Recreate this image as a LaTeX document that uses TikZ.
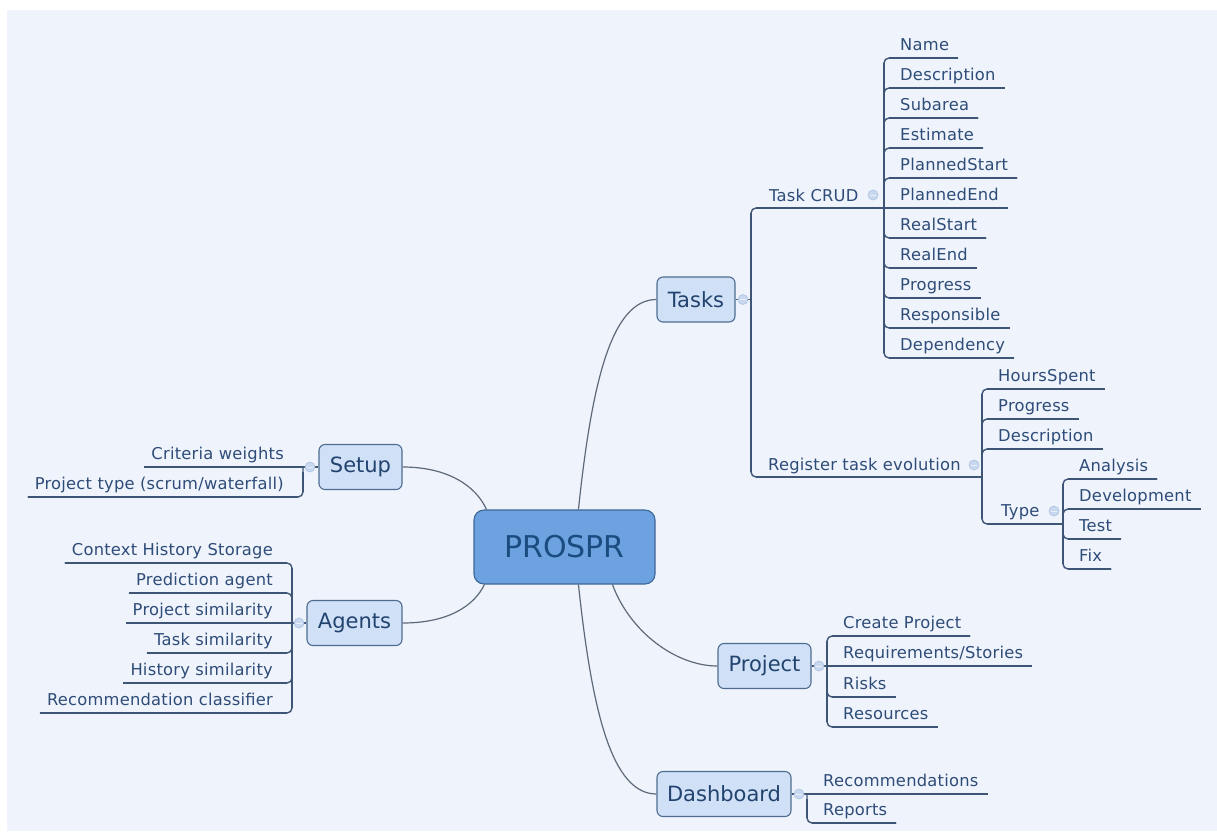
\documentclass[tikz,border=0pt]{standalone}
\usepackage{fontspec}
\setmainfont{DejaVu Sans}
\newfontfamily\leafface[LetterSpace=1.5]{DejaVu Sans}
\definecolor{bg}{HTML}{EFF3FB}
\definecolor{linec}{HTML}{3F5576}
\definecolor{curvec}{HTML}{5D6A7A}
\definecolor{leaftxt}{HTML}{2E4C78}
\definecolor{subfill}{HTML}{CFE0F7}
\definecolor{subdraw}{HTML}{4F6C90}
\definecolor{subtxt}{HTML}{22436E}
\definecolor{mainfill}{HTML}{6CA2DF}
\definecolor{maindraw}{HTML}{3D6797}
\definecolor{maintxt}{HTML}{1B4C80}
\definecolor{foldfill}{HTML}{C8D8F0}
\definecolor{folddraw}{HTML}{ADC2E0}
\definecolor{foldminus}{HTML}{E8EFF9}
\begin{document}
\begin{tikzpicture}[x=1pt,y=-1pt,
  leaffont/.style={font=\leafface\fontsize{16.3}{19}\selectfont, text=leaftxt},
  leafR/.style={leaffont, anchor=base west, inner xsep=9pt, inner ysep=2pt},
  leafL/.style={leaffont, anchor=base east, inner xsep=7pt, inner ysep=2pt},
  midR/.style={leaffont, anchor=base west, inner sep=0pt},
  subtopic/.style={draw=subdraw, fill=subfill, line width=1.1pt, rounded corners=6pt,
    minimum height=45pt, inner sep=0pt, text=subtxt, font=\fontsize{21}{25}\selectfont},
  central/.style={draw=maindraw, fill=mainfill, line width=1.1pt, rounded corners=10pt,
    minimum width=181pt, minimum height=74pt, inner sep=0pt, text=maintxt,
    font=\fontsize{30}{36}\selectfont},
  branch/.style={draw=linec, line width=1.4pt, rounded corners=5pt},
  crisp/.style={draw=linec, line width=1.4pt},
  curve/.style={draw=curvec, line width=1.2pt},
  fold/.style={circle, draw=folddraw, fill=foldfill, line width=0.6pt, minimum size=10pt, inner sep=0pt,
    path picture={\draw[foldminus, line width=1pt]
      ([xshift=-3pt]path picture bounding box.center) -- ([xshift=3pt]path picture bounding box.center);}}
]
% page and canvas
\fill[white] (0,0) rectangle (1217,831);
\fill[bg] (7,10) rectangle (1217,831);

% central topic and main branches
\node[central] (main) at (564.5,547) {PROSPR};
\node[subtopic, minimum width=78pt] (tasks) at (696,299.5) {Tasks};
\node[subtopic, minimum width=83pt] (setup) at (360.5,467) {Setup};
\node[subtopic, minimum width=95pt] (agents) at (354.5,623) {Agents};
\node[subtopic, minimum width=93pt] (project) at (764.5,666) {Project};
\node[subtopic, minimum width=134pt] (dash) at (724,794) {Dashboard};

\draw[curve] ([xshift=105pt]main.north west) .. controls (592,380) and (612,299.5) .. (tasks.west);
\draw[curve] ([xshift=13pt]main.north west) .. controls (476,486) and (448,467) .. (setup.east);
\draw[curve] ([xshift=11pt]main.south west) .. controls (474,606) and (448,623) .. (agents.east);
\draw[curve] ([xshift=139pt]main.south west) .. controls (630,632) and (676,666) .. (project.west);
\draw[curve] ([xshift=105pt]main.south west) .. controls (592,712) and (612,794) .. (dash.west);

% junction points of the brackets
\coordinate (jTasks) at (751,299.5);
\coordinate (jCrud) at (884,208);
\coordinate (jReg) at (982,477);
\coordinate (jType) at (1063,524);
\coordinate (jSetup) at (303,467);
\coordinate (jAgents) at (292,623);
\coordinate (jProject) at (827,666);
\coordinate (jDash) at (807,794);

% Tasks
\node[midR] (crud) at (769,201) {Task CRUD};
\node[midR] (reg) at (768,470) {Register task evolution};
\node[midR] (type) at (1001,516) {Type};
\node[leafR] (n1) at (891,50) {Name};
\node[leafR] (n2) at (891,80) {Description};
\node[leafR] (n3) at (891,110) {Subarea};
\node[leafR] (n4) at (891,140) {Estimate};
\node[leafR] (n5) at (891,170) {PlannedStart};
\node[leafR] (n6) at (891,200) {PlannedEnd};
\node[leafR] (n7) at (891,230) {RealStart};
\node[leafR] (n8) at (891,260) {RealEnd};
\node[leafR] (n9) at (891,290) {Progress};
\node[leafR] (n10) at (891,320) {Responsible};
\node[leafR] (n11) at (891,350) {Dependency};
\node[leafR] (r1) at (989,381) {HoursSpent};
\node[leafR] (r2) at (989,411) {Progress};
\node[leafR] (r3) at (989,441) {Description};
\node[leafR] (t1) at (1070,471) {Analysis};
\node[leafR] (t2) at (1070,501) {Development};
\node[leafR] (t3) at (1070,531) {Test};
\node[leafR] (t4) at (1070,561) {Fix};

% Setup and Agents
\node[leafL] (s1) at (291,459) {Criteria weights};
\node[leafL] (s2) at (291,489) {Project type (scrum/waterfall)};
\node[leafL] (a1) at (280,555) {Context History Storage};
\node[leafL] (a2) at (280,585) {Prediction agent};
\node[leafL] (a3) at (280,615) {Project similarity};
\node[leafL] (a4) at (280,645) {Task similarity};
\node[leafL] (a5) at (280,675) {History similarity};
\node[leafL] (a6) at (280,705) {Recommendation classifier};

% Project and Dashboard
\node[leafR] (p1) at (834,628) {Create Project};
\node[leafR] (p2) at (834,658) {Requirements/Stories};
\node[leafR] (p3) at (834,689) {Risks};
\node[leafR] (p4) at (834,719) {Resources};
\node[leafR] (d1) at (814,786) {Recommendations};
\node[leafR] (d2) at (814,815) {Reports};

% outer ends of the underlines
\foreach \n in {n1,n2,n3,n4,n5,n6,n7,n8,n9,n10,n11,r1,r2,r3,t1,t2,t3,t4,p1,p2,p3,p4,d1,d2}
  \coordinate (\n-u) at ([yshift=-8pt]\n.base east);
\foreach \n in {s1,s2,a1,a2,a3,a4,a5,a6}
  \coordinate (\n-u) at ([yshift=-8pt]\n.base west);

% stubs from the topics to their brackets
\draw[crisp] (tasks.east) -- (jTasks);
\draw[crisp] (setup.west) -- (jSetup);
\draw[crisp] (agents.west) -- (jAgents);
\draw[crisp] (project.east) -- (jProject);
\draw[crisp] (dash.east) -- (jDash);

% elbows with rounded corners
\draw[branch] (jTasks) |- (jCrud);
\draw[branch] (jTasks) |- (jReg);
\draw[branch] (jReg) |- (jType);
\foreach \n in {n1,n2,n3,n4,n5,n7,n8,n9,n10,n11}
  \draw[branch] (jCrud) |- (\n-u);
\foreach \n in {r1,r2,r3}
  \draw[branch] (jReg) |- (\n-u);
\foreach \n in {t1,t2,t3,t4}
  \draw[branch] (jType) |- (\n-u);
\draw[branch] (jSetup) |- (s2-u);
\foreach \n in {a1,a2,a4,a5,a6}
  \draw[branch] (jAgents) |- (\n-u);
\foreach \n in {p1,p3,p4}
  \draw[branch] (jProject) |- (\n-u);
\draw[branch] (jDash) |- (d2-u);

% straight runs: underlines and bracket spines
\foreach \j/\n in {jCrud/n1,jCrud/n2,jCrud/n3,jCrud/n4,jCrud/n5,jCrud/n7,jCrud/n8,jCrud/n9,jCrud/n10,jCrud/n11,
    jReg/r1,jReg/r2,jReg/r3,jType/t1,jType/t2,jType/t3,jType/t4,
    jProject/p1,jProject/p3,jProject/p4,jDash/d2,
    jSetup/s2,jAgents/a1,jAgents/a2,jAgents/a4,jAgents/a5,jAgents/a6}
  \draw[crisp, shorten <=5pt] (\j |- \n-u) -- (\n-u);
\foreach \j/\n in {jCrud/n6,jProject/p2,jDash/d1,jSetup/s1,jAgents/a3}
  \draw[crisp] (\j) -- (\n-u);
\draw[crisp, shorten <=5pt] (jTasks |- jCrud) -- (jCrud);
\draw[crisp, shorten <=5pt] (jTasks |- jReg) -- (jReg);
\draw[crisp, shorten <=5pt] (jReg |- jType) -- (jType);
\draw[crisp, shorten <=5pt, shorten >=5pt] (jTasks |- jCrud) -- (jTasks |- jReg);
\draw[crisp, shorten <=5pt, shorten >=5pt] (jCrud |- n1-u) -- (jCrud |- n11-u);
\draw[crisp, shorten <=5pt, shorten >=5pt] (jReg |- r1-u) -- (jReg |- jType);
\draw[crisp, shorten <=5pt, shorten >=5pt] (jType |- t1-u) -- (jType |- t4-u);
\draw[crisp, shorten <=5pt, shorten >=5pt] (jSetup |- s1-u) -- (jSetup |- s2-u);
\draw[crisp, shorten <=5pt, shorten >=5pt] (jAgents |- a1-u) -- (jAgents |- a6-u);
\draw[crisp, shorten <=5pt, shorten >=5pt] (jProject |- p1-u) -- (jProject |- p4-u);
\draw[crisp, shorten <=5pt, shorten >=5pt] (jDash |- d1-u) -- (jDash |- d2-u);

% collapse markers
\node[fold] (fTasks) at (743,299.5) {};
\node[fold] (fCrud) at (873,195) {};
\node[fold] (fReg) at (974,465) {};
\node[fold] (fType) at (1054,511) {};
\node[fold] (fSetup) at (310,467) {};
\node[fold] (fAgents) at (299,623) {};
\node[fold] (fProject) at (819,666) {};
\node[fold] (fDash) at (799,794) {};
\end{tikzpicture}
\end{document}
